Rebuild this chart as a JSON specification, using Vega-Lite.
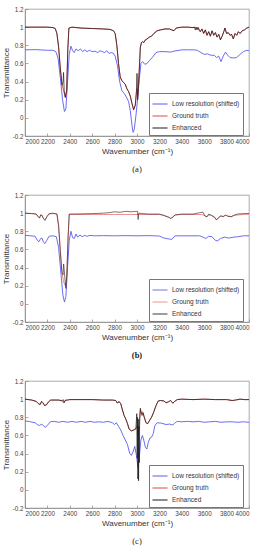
{
"$schema":"https://vega.github.io/schema/vega-lite/v6.json",
"padding":{"left":1,"top":5,"right":4,"bottom":0},
"background":"white",
"spacing":16,
"config":{
 "font":"Liberation Sans",
 "view":{"stroke":"#888","strokeWidth":0.7},
 "axis":{"grid":false,"labelFont":"Liberation Sans","labelFontSize":6.3,"labelColor":"#444","labelOverlap":false,"titleFont":"Liberation Sans","titleFontSize":8,"titleFontWeight":"normal","titleColor":"#333","domainColor":"#888","domainWidth":0.7,"tickColor":"#888","tickSize":-3,"labelPadding":5,"tickWidth":0.7},
 "legend":{"labelFont":"Liberation Sans","labelFontSize":6.5,"labelColor":"#333","symbolType":"stroke","symbolSize":225,"symbolStrokeWidth":1,"fillColor":"white","strokeColor":"#777","padding":3,"rowPadding":-5,"labelOffset":4,"orient":"none","legendX":124,"legendY":84,"title":null,"labelLimit":200},
 "title":{"orient":"bottom","font":"Liberation Serif","fontSize":8.5,"fontWeight":"normal","color":"#222","offset":10}
},
"datasets":{
"a":[
{"s":"L","x":2000,"y":0.75},{"s":"L","x":2100,"y":0.752},{"s":"L","x":2200,"y":0.745},{"s":"L","x":2250,"y":0.745},{"s":"L","x":2275,"y":0.73},{"s":"L","x":2295,"y":0.66},{"s":"L","x":2315,"y":0.45},{"s":"L","x":2335,"y":0.2},{"s":"L","x":2352,"y":0.07},{"s":"L","x":2365,"y":0.1},{"s":"L","x":2380,"y":0.4},{"s":"L","x":2395,"y":0.7},{"s":"L","x":2410,"y":0.79},{"s":"L","x":2425,"y":0.74},{"s":"L","x":2440,"y":0.72},{"s":"L","x":2455,"y":0.76},{"s":"L","x":2475,"y":0.74},{"s":"L","x":2495,"y":0.76},{"s":"L","x":2515,"y":0.73},{"s":"L","x":2535,"y":0.75},{"s":"L","x":2555,"y":0.73},{"s":"L","x":2575,"y":0.745},{"s":"L","x":2600,"y":0.73},{"s":"L","x":2625,"y":0.735},{"s":"L","x":2650,"y":0.72},{"s":"L","x":2670,"y":0.74},{"s":"L","x":2690,"y":0.73},{"s":"L","x":2710,"y":0.72},{"s":"L","x":2730,"y":0.74},{"s":"L","x":2750,"y":0.71},{"s":"L","x":2770,"y":0.72},{"s":"L","x":2790,"y":0.71},{"s":"L","x":2805,"y":0.68},{"s":"L","x":2825,"y":0.58},{"s":"L","x":2845,"y":0.4},{"s":"L","x":2865,"y":0.3},{"s":"L","x":2885,"y":0.27},{"s":"L","x":2905,"y":0.23},{"s":"L","x":2925,"y":0.18},{"s":"L","x":2940,"y":0.08},{"s":"L","x":2955,"y":-0.08},{"s":"L","x":2965,"y":-0.16},{"s":"L","x":2975,"y":-0.13},{"s":"L","x":2990,"y":0.02},{"s":"L","x":3005,"y":0.2},{"s":"L","x":3020,"y":0.42},{"s":"L","x":3035,"y":0.6},{"s":"L","x":3050,"y":0.62},{"s":"L","x":3070,"y":0.59},{"s":"L","x":3090,"y":0.6},{"s":"L","x":3110,"y":0.63},{"s":"L","x":3140,"y":0.67},{"s":"L","x":3170,"y":0.72},{"s":"L","x":3200,"y":0.73},{"s":"L","x":3250,"y":0.73},{"s":"L","x":3300,"y":0.725},{"s":"L","x":3330,"y":0.735},{"s":"L","x":3400,"y":0.75},{"s":"L","x":3450,"y":0.75},{"s":"L","x":3500,"y":0.75},{"s":"L","x":3540,"y":0.745},{"s":"L","x":3570,"y":0.72},{"s":"L","x":3600,"y":0.7},{"s":"L","x":3630,"y":0.705},{"s":"L","x":3660,"y":0.69},{"s":"L","x":3690,"y":0.69},{"s":"L","x":3710,"y":0.665},{"s":"L","x":3730,"y":0.68},{"s":"L","x":3750,"y":0.62},{"s":"L","x":3770,"y":0.68},{"s":"L","x":3790,"y":0.725},{"s":"L","x":3810,"y":0.69},{"s":"L","x":3830,"y":0.665},{"s":"L","x":3860,"y":0.66},{"s":"L","x":3890,"y":0.665},{"s":"L","x":3920,"y":0.7},{"s":"L","x":3950,"y":0.73},{"s":"L","x":3980,"y":0.745},{"s":"L","x":4000,"y":0.74},
{"s":"G","x":2000,"y":1},{"s":"G","x":2100,"y":1},{"s":"G","x":2200,"y":1},{"s":"G","x":2250,"y":0.995},{"s":"G","x":2270,"y":0.985},{"s":"G","x":2285,"y":0.93},{"s":"G","x":2300,"y":0.78},{"s":"G","x":2315,"y":0.55},{"s":"G","x":2330,"y":0.37},{"s":"G","x":2345,"y":0.3},{"s":"G","x":2360,"y":0.22},{"s":"G","x":2372,"y":0.3},{"s":"G","x":2382,"y":0.75},{"s":"G","x":2392,"y":0.99},{"s":"G","x":2420,"y":1},{"s":"G","x":2500,"y":0.99},{"s":"G","x":2600,"y":0.985},{"s":"G","x":2700,"y":0.98},{"s":"G","x":2760,"y":0.975},{"s":"G","x":2790,"y":0.96},{"s":"G","x":2805,"y":0.93},{"s":"G","x":2820,"y":0.8},{"s":"G","x":2835,"y":0.6},{"s":"G","x":2850,"y":0.45},{"s":"G","x":2865,"y":0.41},{"s":"G","x":2880,"y":0.39},{"s":"G","x":2895,"y":0.37},{"s":"G","x":2910,"y":0.32},{"s":"G","x":2925,"y":0.29},{"s":"G","x":2940,"y":0.24},{"s":"G","x":2955,"y":0.16},{"s":"G","x":2970,"y":0.09},{"s":"G","x":2985,"y":0.14},{"s":"G","x":2998,"y":0.32},{"s":"G","x":3008,"y":0.25},{"s":"G","x":3020,"y":0.55},{"s":"G","x":3030,"y":0.78},{"s":"G","x":3040,"y":0.83},{"s":"G","x":3050,"y":0.84},{"s":"G","x":3060,"y":0.83},{"s":"G","x":3075,"y":0.86},{"s":"G","x":3090,"y":0.87},{"s":"G","x":3110,"y":0.89},{"s":"G","x":3130,"y":0.9},{"s":"G","x":3150,"y":0.93},{"s":"G","x":3180,"y":0.96},{"s":"G","x":3210,"y":0.97},{"s":"G","x":3250,"y":0.98},{"s":"G","x":3290,"y":0.98},{"s":"G","x":3310,"y":0.97},{"s":"G","x":3330,"y":0.96},{"s":"G","x":3350,"y":0.99},{"s":"G","x":3400,"y":1},{"s":"G","x":3450,"y":1},{"s":"G","x":3500,"y":0.995},{"s":"G","x":3520,"y":1},{"s":"G","x":3535,"y":0.98},{"s":"G","x":3550,"y":0.99},{"s":"G","x":3565,"y":0.95},{"s":"G","x":3580,"y":0.98},{"s":"G","x":3595,"y":0.93},{"s":"G","x":3610,"y":0.97},{"s":"G","x":3625,"y":0.91},{"s":"G","x":3640,"y":0.95},{"s":"G","x":3655,"y":0.9},{"s":"G","x":3670,"y":0.96},{"s":"G","x":3685,"y":0.91},{"s":"G","x":3700,"y":0.94},{"s":"G","x":3715,"y":0.89},{"s":"G","x":3730,"y":0.92},{"s":"G","x":3745,"y":0.86},{"s":"G","x":3760,"y":0.9},{"s":"G","x":3775,"y":0.95},{"s":"G","x":3785,"y":0.99},{"s":"G","x":3800,"y":0.93},{"s":"G","x":3815,"y":0.94},{"s":"G","x":3830,"y":0.91},{"s":"G","x":3845,"y":0.92},{"s":"G","x":3860,"y":0.87},{"s":"G","x":3875,"y":0.93},{"s":"G","x":3890,"y":0.91},{"s":"G","x":3905,"y":0.95},{"s":"G","x":3920,"y":0.93},{"s":"G","x":3940,"y":0.96},{"s":"G","x":3960,"y":0.97},{"s":"G","x":3980,"y":0.99},{"s":"G","x":4000,"y":1},
{"s":"E","x":2000,"y":1},{"s":"E","x":2100,"y":1},{"s":"E","x":2200,"y":1},{"s":"E","x":2250,"y":0.995},{"s":"E","x":2270,"y":0.985},{"s":"E","x":2285,"y":0.93},{"s":"E","x":2300,"y":0.78},{"s":"E","x":2315,"y":0.55},{"s":"E","x":2330,"y":0.36},{"s":"E","x":2340,"y":0.4},{"s":"E","x":2344,"y":0.5},{"s":"E","x":2350,"y":0.3},{"s":"E","x":2360,"y":0.23},{"s":"E","x":2372,"y":0.3},{"s":"E","x":2382,"y":0.75},{"s":"E","x":2392,"y":0.99},{"s":"E","x":2420,"y":1},{"s":"E","x":2500,"y":0.99},{"s":"E","x":2600,"y":0.985},{"s":"E","x":2700,"y":0.98},{"s":"E","x":2760,"y":0.975},{"s":"E","x":2790,"y":0.96},{"s":"E","x":2805,"y":0.93},{"s":"E","x":2820,"y":0.8},{"s":"E","x":2835,"y":0.6},{"s":"E","x":2850,"y":0.45},{"s":"E","x":2865,"y":0.41},{"s":"E","x":2880,"y":0.39},{"s":"E","x":2895,"y":0.37},{"s":"E","x":2910,"y":0.32},{"s":"E","x":2925,"y":0.29},{"s":"E","x":2940,"y":0.24},{"s":"E","x":2955,"y":0.16},{"s":"E","x":2970,"y":0.09},{"s":"E","x":2985,"y":0.14},{"s":"E","x":2995,"y":0.3},{"s":"E","x":3000,"y":0.49},{"s":"E","x":3006,"y":0.2},{"s":"E","x":3020,"y":0.5},{"s":"E","x":3030,"y":0.78},{"s":"E","x":3040,"y":0.83},{"s":"E","x":3050,"y":0.84},{"s":"E","x":3060,"y":0.83},{"s":"E","x":3075,"y":0.86},{"s":"E","x":3090,"y":0.87},{"s":"E","x":3110,"y":0.89},{"s":"E","x":3130,"y":0.9},{"s":"E","x":3150,"y":0.93},{"s":"E","x":3180,"y":0.96},{"s":"E","x":3210,"y":0.97},{"s":"E","x":3250,"y":0.98},{"s":"E","x":3290,"y":0.98},{"s":"E","x":3310,"y":0.97},{"s":"E","x":3330,"y":0.96},{"s":"E","x":3350,"y":0.99},{"s":"E","x":3400,"y":1},{"s":"E","x":3450,"y":1},{"s":"E","x":3500,"y":0.995},{"s":"E","x":3512,"y":1},{"s":"E","x":3520,"y":0.97},{"s":"E","x":3528,"y":1},{"s":"E","x":3536,"y":0.97},{"s":"E","x":3544,"y":1},{"s":"E","x":3552,"y":0.97},{"s":"E","x":3565,"y":0.95},{"s":"E","x":3580,"y":0.98},{"s":"E","x":3595,"y":0.93},{"s":"E","x":3610,"y":0.97},{"s":"E","x":3625,"y":0.91},{"s":"E","x":3640,"y":0.95},{"s":"E","x":3655,"y":0.9},{"s":"E","x":3670,"y":0.96},{"s":"E","x":3685,"y":0.91},{"s":"E","x":3700,"y":0.94},{"s":"E","x":3715,"y":0.89},{"s":"E","x":3730,"y":0.92},{"s":"E","x":3745,"y":0.86},{"s":"E","x":3760,"y":0.9},{"s":"E","x":3775,"y":0.95},{"s":"E","x":3785,"y":0.99},{"s":"E","x":3800,"y":0.93},{"s":"E","x":3815,"y":0.94},{"s":"E","x":3830,"y":0.91},{"s":"E","x":3845,"y":0.92},{"s":"E","x":3860,"y":0.87},{"s":"E","x":3875,"y":0.93},{"s":"E","x":3890,"y":0.91},{"s":"E","x":3905,"y":0.95},{"s":"E","x":3920,"y":0.93},{"s":"E","x":3940,"y":0.96},{"s":"E","x":3960,"y":0.97},{"s":"E","x":3980,"y":0.99},{"s":"E","x":4000,"y":1}
],
"b":[
{"s":"L","x":2000,"y":0.755},{"s":"L","x":2050,"y":0.75},{"s":"L","x":2090,"y":0.745},{"s":"L","x":2110,"y":0.7},{"s":"L","x":2125,"y":0.685},{"s":"L","x":2140,"y":0.72},{"s":"L","x":2152,"y":0.725},{"s":"L","x":2165,"y":0.68},{"s":"L","x":2178,"y":0.665},{"s":"L","x":2195,"y":0.7},{"s":"L","x":2215,"y":0.745},{"s":"L","x":2250,"y":0.75},{"s":"L","x":2280,"y":0.74},{"s":"L","x":2300,"y":0.62},{"s":"L","x":2320,"y":0.35},{"s":"L","x":2338,"y":0.1},{"s":"L","x":2352,"y":0.02},{"s":"L","x":2365,"y":0.08},{"s":"L","x":2380,"y":0.4},{"s":"L","x":2395,"y":0.7},{"s":"L","x":2410,"y":0.8},{"s":"L","x":2425,"y":0.73},{"s":"L","x":2440,"y":0.72},{"s":"L","x":2455,"y":0.77},{"s":"L","x":2470,"y":0.735},{"s":"L","x":2490,"y":0.76},{"s":"L","x":2510,"y":0.74},{"s":"L","x":2530,"y":0.755},{"s":"L","x":2555,"y":0.745},{"s":"L","x":2580,"y":0.755},{"s":"L","x":2620,"y":0.75},{"s":"L","x":2700,"y":0.752},{"s":"L","x":2800,"y":0.75},{"s":"L","x":2900,"y":0.752},{"s":"L","x":3000,"y":0.75},{"s":"L","x":3100,"y":0.752},{"s":"L","x":3200,"y":0.748},{"s":"L","x":3230,"y":0.73},{"s":"L","x":3260,"y":0.72},{"s":"L","x":3290,"y":0.715},{"s":"L","x":3310,"y":0.71},{"s":"L","x":3340,"y":0.75},{"s":"L","x":3400,"y":0.75},{"s":"L","x":3500,"y":0.75},{"s":"L","x":3560,"y":0.75},{"s":"L","x":3590,"y":0.735},{"s":"L","x":3615,"y":0.72},{"s":"L","x":3640,"y":0.745},{"s":"L","x":3670,"y":0.74},{"s":"L","x":3700,"y":0.7},{"s":"L","x":3720,"y":0.695},{"s":"L","x":3745,"y":0.72},{"s":"L","x":3780,"y":0.735},{"s":"L","x":3820,"y":0.725},{"s":"L","x":3860,"y":0.735},{"s":"L","x":3900,"y":0.74},{"s":"L","x":3950,"y":0.75},{"s":"L","x":4000,"y":0.75},
{"s":"G","x":2000,"y":1},{"s":"G","x":2060,"y":0.995},{"s":"G","x":2100,"y":0.99},{"s":"G","x":2118,"y":0.96},{"s":"G","x":2130,"y":0.95},{"s":"G","x":2140,"y":0.98},{"s":"G","x":2150,"y":0.975},{"s":"G","x":2165,"y":0.94},{"s":"G","x":2178,"y":0.925},{"s":"G","x":2195,"y":0.96},{"s":"G","x":2215,"y":0.99},{"s":"G","x":2250,"y":0.995},{"s":"G","x":2285,"y":0.99},{"s":"G","x":2300,"y":0.88},{"s":"G","x":2315,"y":0.6},{"s":"G","x":2330,"y":0.35},{"s":"G","x":2345,"y":0.24},{"s":"G","x":2360,"y":0.2},{"s":"G","x":2372,"y":0.3},{"s":"G","x":2384,"y":0.7},{"s":"G","x":2395,"y":0.985},{"s":"G","x":2420,"y":0.985},{"s":"G","x":2500,"y":0.985},{"s":"G","x":2600,"y":0.985},{"s":"G","x":2700,"y":0.985},{"s":"G","x":2800,"y":0.985},{"s":"G","x":2900,"y":0.985},{"s":"G","x":3000,"y":0.985},{"s":"G","x":3100,"y":0.985},{"s":"G","x":3200,"y":0.985},{"s":"G","x":3240,"y":0.975},{"s":"G","x":3270,"y":0.96},{"s":"G","x":3290,"y":0.95},{"s":"G","x":3305,"y":0.945},{"s":"G","x":3320,"y":0.96},{"s":"G","x":3340,"y":0.98},{"s":"G","x":3400,"y":0.985},{"s":"G","x":3500,"y":0.985},{"s":"G","x":3580,"y":0.985},{"s":"G","x":3600,"y":0.975},{"s":"G","x":3625,"y":0.96},{"s":"G","x":3640,"y":0.98},{"s":"G","x":3665,"y":0.975},{"s":"G","x":3690,"y":0.95},{"s":"G","x":3712,"y":0.93},{"s":"G","x":3730,"y":0.95},{"s":"G","x":3750,"y":0.97},{"s":"G","x":3770,"y":0.965},{"s":"G","x":3790,"y":0.975},{"s":"G","x":3810,"y":0.97},{"s":"G","x":3840,"y":0.96},{"s":"G","x":3870,"y":0.975},{"s":"G","x":3900,"y":0.98},{"s":"G","x":3950,"y":0.985},{"s":"G","x":4000,"y":0.99},
{"s":"E","x":2000,"y":1},{"s":"E","x":2060,"y":0.995},{"s":"E","x":2100,"y":0.99},{"s":"E","x":2118,"y":0.96},{"s":"E","x":2130,"y":0.945},{"s":"E","x":2140,"y":0.98},{"s":"E","x":2150,"y":0.98},{"s":"E","x":2165,"y":0.94},{"s":"E","x":2178,"y":0.92},{"s":"E","x":2195,"y":0.96},{"s":"E","x":2215,"y":0.995},{"s":"E","x":2250,"y":1},{"s":"E","x":2285,"y":0.99},{"s":"E","x":2300,"y":0.85},{"s":"E","x":2315,"y":0.58},{"s":"E","x":2330,"y":0.34},{"s":"E","x":2340,"y":0.32},{"s":"E","x":2345,"y":0.44},{"s":"E","x":2350,"y":0.38},{"s":"E","x":2358,"y":0.25},{"s":"E","x":2365,"y":0.17},{"s":"E","x":2375,"y":0.35},{"s":"E","x":2385,"y":0.75},{"s":"E","x":2395,"y":0.99},{"s":"E","x":2420,"y":0.99},{"s":"E","x":2500,"y":0.992},{"s":"E","x":2600,"y":0.995},{"s":"E","x":2700,"y":1},{"s":"E","x":2750,"y":1.005},{"s":"E","x":2800,"y":1.015},{"s":"E","x":2850,"y":1.01},{"s":"E","x":2900,"y":1.02},{"s":"E","x":2950,"y":1.015},{"s":"E","x":2990,"y":1.02},{"s":"E","x":3005,"y":1.02},{"s":"E","x":3010,"y":0.93},{"s":"E","x":3016,"y":1},{"s":"E","x":3050,"y":0.995},{"s":"E","x":3100,"y":0.99},{"s":"E","x":3200,"y":0.99},{"s":"E","x":3240,"y":0.975},{"s":"E","x":3270,"y":0.96},{"s":"E","x":3285,"y":0.955},{"s":"E","x":3300,"y":0.94},{"s":"E","x":3320,"y":0.955},{"s":"E","x":3340,"y":0.98},{"s":"E","x":3400,"y":0.99},{"s":"E","x":3500,"y":0.99},{"s":"E","x":3560,"y":1.005},{"s":"E","x":3590,"y":1.01},{"s":"E","x":3605,"y":0.97},{"s":"E","x":3625,"y":0.96},{"s":"E","x":3640,"y":0.99},{"s":"E","x":3665,"y":0.975},{"s":"E","x":3690,"y":0.96},{"s":"E","x":3710,"y":0.925},{"s":"E","x":3725,"y":0.945},{"s":"E","x":3745,"y":0.97},{"s":"E","x":3770,"y":0.96},{"s":"E","x":3790,"y":0.98},{"s":"E","x":3810,"y":0.965},{"s":"E","x":3840,"y":0.96},{"s":"E","x":3870,"y":0.98},{"s":"E","x":3900,"y":0.99},{"s":"E","x":3950,"y":0.995},{"s":"E","x":4000,"y":0.995}
],
"c":[
{"s":"L","x":2000,"y":0.76},{"s":"L","x":2050,"y":0.75},{"s":"L","x":2090,"y":0.74},{"s":"L","x":2115,"y":0.715},{"s":"L","x":2130,"y":0.71},{"s":"L","x":2150,"y":0.725},{"s":"L","x":2165,"y":0.705},{"s":"L","x":2180,"y":0.69},{"s":"L","x":2200,"y":0.71},{"s":"L","x":2225,"y":0.75},{"s":"L","x":2260,"y":0.755},{"s":"L","x":2300,"y":0.745},{"s":"L","x":2340,"y":0.755},{"s":"L","x":2380,"y":0.745},{"s":"L","x":2420,"y":0.755},{"s":"L","x":2460,"y":0.745},{"s":"L","x":2500,"y":0.755},{"s":"L","x":2540,"y":0.745},{"s":"L","x":2580,"y":0.755},{"s":"L","x":2620,"y":0.745},{"s":"L","x":2660,"y":0.75},{"s":"L","x":2700,"y":0.745},{"s":"L","x":2740,"y":0.755},{"s":"L","x":2780,"y":0.74},{"s":"L","x":2800,"y":0.72},{"s":"L","x":2815,"y":0.74},{"s":"L","x":2835,"y":0.7},{"s":"L","x":2855,"y":0.66},{"s":"L","x":2875,"y":0.6},{"s":"L","x":2895,"y":0.55},{"s":"L","x":2915,"y":0.5},{"s":"L","x":2935,"y":0.4},{"s":"L","x":2950,"y":0.38},{"s":"L","x":2965,"y":0.42},{"s":"L","x":2980,"y":0.48},{"s":"L","x":2995,"y":0.38},{"s":"L","x":3008,"y":0.25},{"s":"L","x":3020,"y":0.35},{"s":"L","x":3035,"y":0.55},{"s":"L","x":3048,"y":0.6},{"s":"L","x":3060,"y":0.55},{"s":"L","x":3075,"y":0.47},{"s":"L","x":3088,"y":0.45},{"s":"L","x":3100,"y":0.52},{"s":"L","x":3115,"y":0.57},{"s":"L","x":3130,"y":0.58},{"s":"L","x":3145,"y":0.62},{"s":"L","x":3160,"y":0.71},{"s":"L","x":3180,"y":0.74},{"s":"L","x":3220,"y":0.735},{"s":"L","x":3260,"y":0.72},{"s":"L","x":3290,"y":0.725},{"s":"L","x":3320,"y":0.715},{"s":"L","x":3340,"y":0.74},{"s":"L","x":3360,"y":0.755},{"s":"L","x":3400,"y":0.75},{"s":"L","x":3450,"y":0.755},{"s":"L","x":3500,"y":0.75},{"s":"L","x":3550,"y":0.755},{"s":"L","x":3600,"y":0.745},{"s":"L","x":3650,"y":0.75},{"s":"L","x":3700,"y":0.755},{"s":"L","x":3750,"y":0.745},{"s":"L","x":3800,"y":0.75},{"s":"L","x":3850,"y":0.75},{"s":"L","x":3900,"y":0.745},{"s":"L","x":3950,"y":0.75},{"s":"L","x":4000,"y":0.745},
{"s":"G","x":2000,"y":1},{"s":"G","x":2060,"y":0.99},{"s":"G","x":2100,"y":0.975},{"s":"G","x":2120,"y":0.95},{"s":"G","x":2135,"y":0.94},{"s":"G","x":2148,"y":0.975},{"s":"G","x":2160,"y":0.96},{"s":"G","x":2175,"y":0.93},{"s":"G","x":2190,"y":0.935},{"s":"G","x":2210,"y":0.97},{"s":"G","x":2230,"y":0.99},{"s":"G","x":2300,"y":0.99},{"s":"G","x":2330,"y":0.985},{"s":"G","x":2345,"y":0.96},{"s":"G","x":2360,"y":0.985},{"s":"G","x":2380,"y":0.99},{"s":"G","x":2400,"y":0.995},{"s":"G","x":2500,"y":0.995},{"s":"G","x":2600,"y":0.995},{"s":"G","x":2700,"y":0.99},{"s":"G","x":2780,"y":0.99},{"s":"G","x":2810,"y":0.985},{"s":"G","x":2825,"y":0.96},{"s":"G","x":2840,"y":0.97},{"s":"G","x":2855,"y":0.95},{"s":"G","x":2870,"y":0.88},{"s":"G","x":2885,"y":0.82},{"s":"G","x":2900,"y":0.78},{"s":"G","x":2915,"y":0.73},{"s":"G","x":2930,"y":0.67},{"s":"G","x":2950,"y":0.65},{"s":"G","x":2970,"y":0.66},{"s":"G","x":2990,"y":0.68},{"s":"G","x":3000,"y":0.7},{"s":"G","x":3010,"y":0.6},{"s":"G","x":3020,"y":0.7},{"s":"G","x":3030,"y":0.88},{"s":"G","x":3040,"y":0.84},{"s":"G","x":3050,"y":0.86},{"s":"G","x":3065,"y":0.8},{"s":"G","x":3080,"y":0.74},{"s":"G","x":3095,"y":0.73},{"s":"G","x":3110,"y":0.76},{"s":"G","x":3130,"y":0.8},{"s":"G","x":3150,"y":0.86},{"s":"G","x":3170,"y":0.93},{"s":"G","x":3190,"y":0.98},{"s":"G","x":3210,"y":0.985},{"s":"G","x":3240,"y":0.98},{"s":"G","x":3260,"y":0.96},{"s":"G","x":3280,"y":0.97},{"s":"G","x":3300,"y":0.985},{"s":"G","x":3320,"y":0.955},{"s":"G","x":3340,"y":0.98},{"s":"G","x":3360,"y":0.995},{"s":"G","x":3400,"y":1},{"s":"G","x":3500,"y":0.995},{"s":"G","x":3600,"y":1},{"s":"G","x":3700,"y":0.995},{"s":"G","x":3800,"y":0.995},{"s":"G","x":3850,"y":0.985},{"s":"G","x":3880,"y":0.99},{"s":"G","x":3920,"y":1},{"s":"G","x":3960,"y":0.995},{"s":"G","x":4000,"y":0.995},
{"s":"E","x":2000,"y":1},{"s":"E","x":2060,"y":0.99},{"s":"E","x":2100,"y":0.975},{"s":"E","x":2120,"y":0.95},{"s":"E","x":2135,"y":0.94},{"s":"E","x":2148,"y":0.975},{"s":"E","x":2160,"y":0.96},{"s":"E","x":2175,"y":0.93},{"s":"E","x":2190,"y":0.935},{"s":"E","x":2210,"y":0.97},{"s":"E","x":2230,"y":0.99},{"s":"E","x":2300,"y":0.99},{"s":"E","x":2330,"y":0.98},{"s":"E","x":2340,"y":0.995},{"s":"E","x":2350,"y":0.96},{"s":"E","x":2360,"y":0.99},{"s":"E","x":2380,"y":0.99},{"s":"E","x":2400,"y":0.995},{"s":"E","x":2500,"y":0.995},{"s":"E","x":2600,"y":0.995},{"s":"E","x":2700,"y":0.99},{"s":"E","x":2780,"y":0.99},{"s":"E","x":2810,"y":0.985},{"s":"E","x":2825,"y":0.955},{"s":"E","x":2840,"y":0.975},{"s":"E","x":2855,"y":0.95},{"s":"E","x":2870,"y":0.88},{"s":"E","x":2885,"y":0.82},{"s":"E","x":2900,"y":0.78},{"s":"E","x":2915,"y":0.73},{"s":"E","x":2930,"y":0.67},{"s":"E","x":2950,"y":0.65},{"s":"E","x":2970,"y":0.66},{"s":"E","x":2990,"y":0.67},{"s":"E","x":2998,"y":0.84},{"s":"E","x":3002,"y":0.35},{"s":"E","x":3005,"y":0.8},{"s":"E","x":3008,"y":0.12},{"s":"E","x":3011,"y":0.78},{"s":"E","x":3014,"y":0.1},{"s":"E","x":3017,"y":0.7},{"s":"E","x":3020,"y":0.3},{"s":"E","x":3024,"y":0.8},{"s":"E","x":3030,"y":0.9},{"s":"E","x":3038,"y":0.85},{"s":"E","x":3045,"y":0.82},{"s":"E","x":3055,"y":0.85},{"s":"E","x":3065,"y":0.8},{"s":"E","x":3080,"y":0.74},{"s":"E","x":3095,"y":0.73},{"s":"E","x":3110,"y":0.76},{"s":"E","x":3130,"y":0.8},{"s":"E","x":3150,"y":0.86},{"s":"E","x":3170,"y":0.93},{"s":"E","x":3190,"y":0.98},{"s":"E","x":3210,"y":0.985},{"s":"E","x":3240,"y":0.98},{"s":"E","x":3260,"y":0.96},{"s":"E","x":3280,"y":0.97},{"s":"E","x":3300,"y":0.985},{"s":"E","x":3320,"y":0.955},{"s":"E","x":3340,"y":0.98},{"s":"E","x":3360,"y":0.995},{"s":"E","x":3400,"y":1},{"s":"E","x":3500,"y":0.995},{"s":"E","x":3600,"y":1},{"s":"E","x":3700,"y":0.995},{"s":"E","x":3800,"y":0.995},{"s":"E","x":3850,"y":0.985},{"s":"E","x":3880,"y":0.99},{"s":"E","x":3920,"y":1},{"s":"E","x":3960,"y":0.995},{"s":"E","x":4000,"y":0.995}
]
},
"resolve":{"scale":{"color":"independent"},"legend":{"color":"independent"}},
"vconcat":[
{"width":224,"height":127,"data":{"name":"a"},"title":{"text":"(a)"},
 "encoding":{
  "x":{"field":"x","type":"quantitative","scale":{"domain":[2000,4000],"nice":false},"axis":{"values":[2000,2200,2400,2600,2800,3000,3200,3400,3600,3800,4000],"format":"d","title":"Wavenumber (cm⁻¹)","titlePadding":3}},
  "y":{"field":"y","type":"quantitative","scale":{"domain":[-0.2,1.2],"nice":false},"axis":{"values":[-0.2,0,0.2,0.4,0.6,0.8,1,1.2],"labelExpr":"datum.value < 0 ? '-' + format(-datum.value,'~g') : format(datum.value,'~g')","title":"Transmittance","titlePadding":2}},
  "color":{"field":"s","type":"nominal","scale":{"domain":["L","G","E"],"range":["#5b5bf0","#e04848","#1a1a1a"]},"legend":{"labelExpr":"datum.label=='L'?'Low resolution (shifted)':datum.label=='G'?'Ground truth':'Enhanced'"}}
 },
 "layer":[
  {"transform":[{"filter":"datum.s=='L'"}],"mark":{"type":"line","strokeWidth":0.9}},
  {"transform":[{"filter":"datum.s=='G'"}],"mark":{"type":"line","strokeWidth":0.9}},
  {"transform":[{"filter":"datum.s=='E'"}],"mark":{"type":"line","strokeWidth":0.7}}
 ]},
{"width":224,"height":127,"data":{"name":"b"},"title":{"text":"(b)","fontWeight":"bold"},
 "encoding":{
  "x":{"field":"x","type":"quantitative","scale":{"domain":[2000,4000],"nice":false},"axis":{"values":[2000,2200,2400,2600,2800,3000,3200,3400,3600,3800,4000],"format":"d","title":"Wavenumber (cm⁻¹)","titlePadding":3}},
  "y":{"field":"y","type":"quantitative","scale":{"domain":[-0.2,1.2],"nice":false},"axis":{"values":[-0.2,0,0.2,0.4,0.6,0.8,1,1.2],"labelExpr":"datum.value < 0 ? '-' + format(-datum.value,'~g') : format(datum.value,'~g')","title":"Transmittance","titlePadding":2}},
  "color":{"field":"s","type":"nominal","scale":{"domain":["L","G","E"],"range":["#5b5bf0","#f08080","#1a1a1a"]},"legend":{"labelExpr":"datum.label=='L'?'Low resolution (shifted)':datum.label=='G'?'Groung truth':'Enhanced'"}}
 },
 "layer":[
  {"transform":[{"filter":"datum.s=='L'"}],"mark":{"type":"line","strokeWidth":0.9}},
  {"transform":[{"filter":"datum.s=='G'"}],"mark":{"type":"line","strokeWidth":0.9}},
  {"transform":[{"filter":"datum.s=='E'"}],"mark":{"type":"line","strokeWidth":0.7,"opacity":0.85}}
 ]},
{"width":224,"height":127,"data":{"name":"c"},"title":{"text":"(c)"},
 "encoding":{
  "x":{"field":"x","type":"quantitative","scale":{"domain":[2000,4000],"nice":false},"axis":{"values":[2000,2200,2400,2600,2800,3000,3200,3400,3600,3800,4000],"format":"d","title":"Wavenumber (cm⁻¹)","titlePadding":3}},
  "y":{"field":"y","type":"quantitative","scale":{"domain":[-0.2,1.2],"nice":false},"axis":{"values":[-0.2,0,0.2,0.4,0.6,0.8,1,1.2],"labelExpr":"datum.value < 0 ? '-' + format(-datum.value,'~g') : format(datum.value,'~g')","title":"Transmittance","titlePadding":2}},
  "color":{"field":"s","type":"nominal","scale":{"domain":["L","G","E"],"range":["#5b5bf0","#e04848","#1a1a1a"]},"legend":{"labelExpr":"datum.label=='L'?'Low resolution (shifted)':datum.label=='G'?'Groung truth':'Enhanced'"}}
 },
 "layer":[
  {"transform":[{"filter":"datum.s=='L'"}],"mark":{"type":"line","strokeWidth":0.9}},
  {"transform":[{"filter":"datum.s=='G'"}],"mark":{"type":"line","strokeWidth":0.9}},
  {"transform":[{"filter":"datum.s=='E'"}],"mark":{"type":"line","strokeWidth":0.7}}
 ]}
]
}
